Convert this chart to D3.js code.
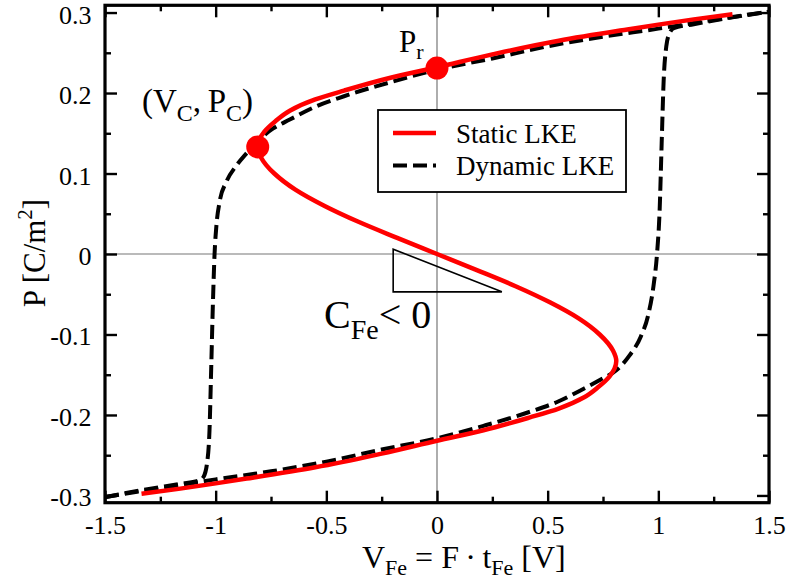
<!DOCTYPE html>
<html>
<head>
<meta charset="utf-8">
<script src="https://cdn.jsdelivr.net/npm/d3@7"></script>
<style>
  html, body { margin: 0; padding: 0; background: #fff; }
  svg { display: block; }
  text { font-family: "Liberation Serif", "Times New Roman", serif; fill: #000; }
</style>
</head>
<body>
<svg id="chart" width="787" height="583"></svg>
<script>
// Static Landau–Khalatnikov S-curve, ordered by polarization (V in volts, P in C/m^2)
const staticP = [-0.298, -0.2915, -0.285, -0.279, -0.265, -0.248, -0.232, -0.219, -0.203, -0.192, -0.178, -0.165, -0.152, -0.133,
                 -0.12, -0.10, -0.08, -0.06, -0.04, -0.02, 0, 0.02, 0.04, 0.06, 0.08, 0.10, 0.12,
                 0.133, 0.152, 0.165, 0.178, 0.192, 0.203, 0.219, 0.232, 0.248, 0.265, 0.279, 0.285, 0.2915, 0.298];
const staticV = [-1.335, -1.16, -1.0, -0.86, -0.55, -0.25, 0, 0.21, 0.42, 0.55, 0.665, 0.73, 0.78, 0.81,
                 0.795, 0.735, 0.64, 0.51, 0.355, 0.18, 0, -0.18, -0.355, -0.51, -0.64, -0.735, -0.795,
                 -0.81, -0.78, -0.73, -0.665, -0.55, -0.42, -0.21, 0, 0.25, 0.55, 0.86, 1.0, 1.16, 1.335];

// Dynamic LKE hysteresis loop: rising sweep
const dynUpV = [-1.5, -1.335, -1.16, -1.0, -0.75, -0.5, -0.25, 0, 0.21, 0.42, 0.55, 0.665, 0.74, 0.81,
                0.87, 0.92, 0.955, 0.978, 0.994, 1.006, 1.015, 1.024, 1.036, 1.05, 1.07, 1.16, 1.335, 1.5];
const dynUpP = [-0.302, -0.2945, -0.287, -0.280, -0.270, -0.258, -0.243, -0.229, -0.2135, -0.196, -0.183, -0.167, -0.156, -0.1445,
                -0.126, -0.103, -0.075, -0.040, 0, 0.055, 0.137, 0.215, 0.258, 0.274, 0.2805, 0.2855, 0.294, 0.301];
// falling sweep
const dynDownV = [1.5, 1.335, 1.16, 1.0, 0.75, 0.5, 0.25, 0, -0.21, -0.42, -0.55, -0.665, -0.74, -0.80,
                  -0.861, -0.906, -0.951, -0.982, -0.997, -1.005, -1.012, -1.02, -1.028, -1.040, -1.055, -1.075, -1.16, -1.335, -1.5];
const dynDownP = [0.301, 0.2945, 0.287, 0.280, 0.270, 0.258, 0.243, 0.229, 0.2135, 0.196, 0.183, 0.167, 0.156, 0.143,
                  0.125, 0.110, 0.090, 0.065, 0.034, 0, -0.057, -0.14, -0.22, -0.262, -0.277, -0.2815, -0.2855, -0.2935, -0.302];

// Marked points: coercive point (Vc, Pc) and remanent polarization Pr
const markV = [-0.81, 0];
const markP = [0.133, 0.231];

// Axis ticks
const xMajor = [-1.5, -1, -0.5, 0, 0.5, 1, 1.5];
const xMinor = [-1.25, -0.75, -0.25, 0.25, 0.75, 1.25];
const yMajor = [-0.3, -0.2, -0.1, 0, 0.1, 0.2, 0.3];
const yMinor = [-0.25, -0.15, -0.05, 0.05, 0.15, 0.25];

// Slope triangle for negative capacitance
const triV = [-0.198, -0.198, 0.293];
const triP = [0.006, -0.047, -0.047];

const svg = d3.select("#chart");
const x = d3.scaleLinear().domain([-1.5, 1.5]).range([105, 769]);
const y = d3.scaleLinear().domain([-0.309, 0.309]).range([502.7, 5.3]);
const [x0, x1] = x.range();
const [y0, y1] = y.range();
const tickText = d => String(d);   // plain hyphen minus, as in "-0.5"

// zero reference lines
svg.append("line").attr("x1", x0).attr("x2", x1).attr("y1", y(0)).attr("y2", y(0))
  .attr("stroke", "#777").attr("stroke-width", 1.2);
svg.append("line").attr("x1", x(0)).attr("x2", x(0)).attr("y1", y0).attr("y2", y1)
  .attr("stroke", "#777").attr("stroke-width", 1.2);

// slope triangle
svg.append("path")
  .attr("d", d3.line()(triV.map((v, i) => [x(v), y(triP[i])])) + "Z")
  .attr("fill", "none").attr("stroke", "#000").attr("stroke-width", 1.6);

// dynamic loop: each sweep is monotone in V
const lineX = d3.line().curve(d3.curveMonotoneX);
[[dynUpV, dynUpP], [dynDownV, dynDownP]].forEach(([vs, ps]) => {
  const pts = vs.map((v, i) => [x(v), y(ps[i])]).sort((a, b) => a[0] - b[0]);
  svg.append("path")
    .attr("d", lineX(pts))
    .attr("fill", "none").attr("stroke", "#000").attr("stroke-width", 4)
    .attr("stroke-dasharray", "14,6");
});

// static curve: single-valued in P
const lineY = d3.line().curve(d3.curveMonotoneY);
const sPts = staticV.map((v, i) => [x(v), y(staticP[i])]).sort((a, b) => a[1] - b[1]);
svg.append("path")
  .attr("d", lineY(sPts))
  .attr("fill", "none").attr("stroke", "#ff0000").attr("stroke-width", 4.5);

// marker dots
svg.selectAll("circle.mark").data(markV).join("circle")
  .attr("class", "mark")
  .attr("cx", d => x(d)).attr("cy", (d, i) => y(markP[i])).attr("r", 11.5)
  .attr("fill", "#ff0000");

// axes with inward ticks on all sides
function styleAxis(g) {
  g.select(".domain").remove();
  g.selectAll(".tick line").attr("stroke", "#000").attr("stroke-width", 2.4);
  g.selectAll("text").style("font-size", "26px").style("font-family", '"Liberation Serif", serif');
}
const bottom = svg.append("g").attr("transform", `translate(0,${y0})`)
  .call(d3.axisBottom(x).tickValues(xMajor).tickSize(-12).tickFormat(tickText));
bottom.call(styleAxis);
bottom.selectAll("text").attr("y", 31).attr("dy", null);
svg.append("g").attr("transform", `translate(0,${y0})`)
  .call(d3.axisBottom(x).tickValues(xMinor).tickSize(-6).tickFormat("")).call(styleAxis);
svg.append("g").attr("transform", `translate(0,${y1})`)
  .call(d3.axisTop(x).tickValues(xMajor).tickSize(-12).tickFormat("")).call(styleAxis);
svg.append("g").attr("transform", `translate(0,${y1})`)
  .call(d3.axisTop(x).tickValues(xMinor).tickSize(-6).tickFormat("")).call(styleAxis);

const left = svg.append("g").attr("transform", `translate(${x0},0)`)
  .call(d3.axisLeft(y).tickValues(yMajor).tickSize(-12).tickFormat(tickText));
left.call(styleAxis);
left.selectAll("text").attr("x", -13.5).attr("dy", null).attr("y", 10.5);
svg.append("g").attr("transform", `translate(${x0},0)`)
  .call(d3.axisLeft(y).tickValues(yMinor).tickSize(-6).tickFormat("")).call(styleAxis);
svg.append("g").attr("transform", `translate(${x1},0)`)
  .call(d3.axisRight(y).tickValues(yMajor).tickSize(-12).tickFormat("")).call(styleAxis);
svg.append("g").attr("transform", `translate(${x1},0)`)
  .call(d3.axisRight(y).tickValues(yMinor).tickSize(-6).tickFormat("")).call(styleAxis);

// plot frame
svg.append("rect").attr("x", x0).attr("y", y1).attr("width", x1 - x0).attr("height", y0 - y1)
  .attr("fill", "none").attr("stroke", "#000").attr("stroke-width", 3.2);

// axis titles
const xt = svg.append("text").attr("x", 362).attr("y", 568).style("font-size", "32px");
xt.append("tspan").text("V");
xt.append("tspan").attr("dy", 7).style("font-size", "22px").text("Fe");
xt.append("tspan").attr("dy", -7).text(" = F\u2009\u00b7\u2009t");
xt.append("tspan").attr("dy", 7).style("font-size", "22px").text("Fe");
xt.append("tspan").attr("dy", -7).text(" [V]");

const yt = svg.append("text").attr("transform", "translate(45,253) rotate(-90)")
  .attr("text-anchor", "middle").style("font-size", "31px");
yt.append("tspan").text("P [C/m");
yt.append("tspan").attr("dy", -13).style("font-size", "21px").text("2");
yt.append("tspan").attr("dy", 13).text("]");

// annotations
const pr = svg.append("text").attr("x", 399).attr("y", 52).style("font-size", "31px");
pr.append("tspan").text("P");
pr.append("tspan").attr("dy", 7).style("font-size", "22px").text("r");

const vc = svg.append("text").attr("x", 142).attr("y", 112).style("font-size", "33px");
vc.append("tspan").text("(V");
vc.append("tspan").attr("dy", 9).style("font-size", "24px").text("C");
vc.append("tspan").attr("dy", -9).text(",\u2009P");
vc.append("tspan").attr("dy", 9).style("font-size", "24px").text("C");
vc.append("tspan").attr("dy", -9).text(")");

const cfe = svg.append("text").attr("x", 324).attr("y", 328).style("font-size", "40px");
cfe.append("tspan").text("C");
cfe.append("tspan").attr("dy", 11).style("font-size", "28px").text("Fe");
cfe.append("tspan").attr("dy", -11).text("< 0");

// legend
const lg = svg.append("g");
lg.append("rect").attr("x", 378).attr("y", 110).attr("width", 248).attr("height", 82)
  .attr("fill", "#fff").attr("stroke", "#000").attr("stroke-width", 1.8);
lg.append("line").attr("x1", 393).attr("x2", 436).attr("y1", 133).attr("y2", 133)
  .attr("stroke", "#ff0000").attr("stroke-width", 4.5);
lg.append("line").attr("x1", 393).attr("x2", 436).attr("y1", 165.5).attr("y2", 165.5)
  .attr("stroke", "#000").attr("stroke-width", 4).attr("stroke-dasharray", "14,6");
lg.append("text").attr("x", 456).attr("y", 142.5).style("font-size", "27px").text("Static LKE");
lg.append("text").attr("x", 456).attr("y", 174.5).style("font-size", "27px").text("Dynamic LKE");
</script>
</body>
</html>
